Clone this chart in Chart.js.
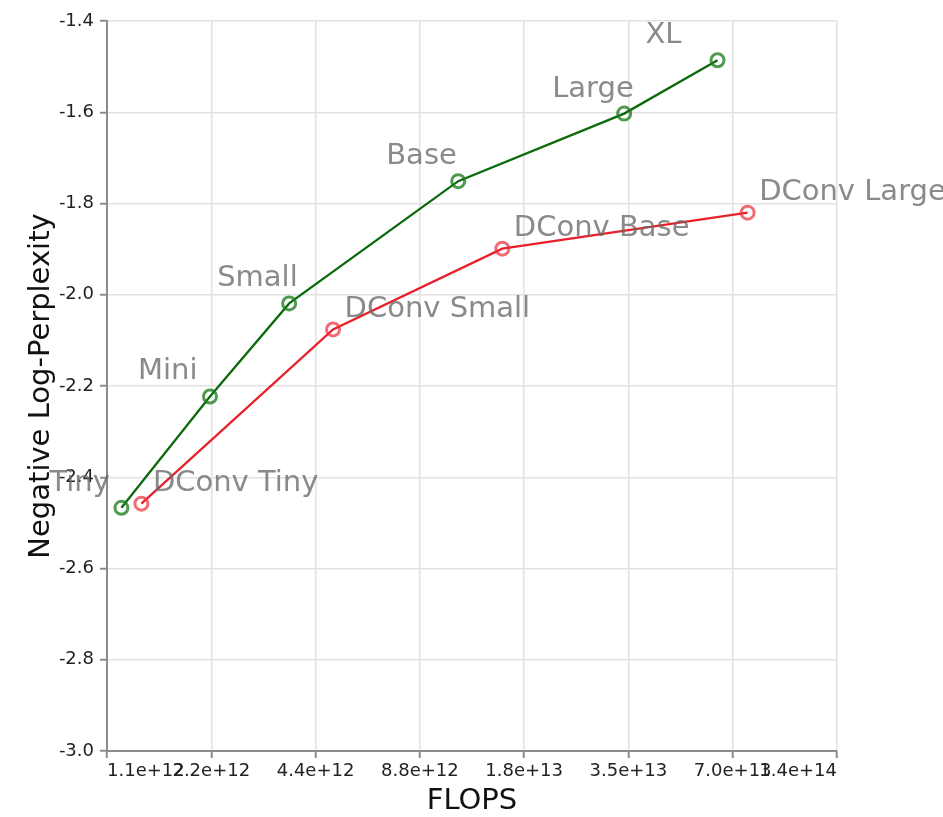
<!DOCTYPE html>
<html>
<head>
<meta charset="utf-8">
<script src="https://cdn.jsdelivr.net/npm/chart.js@4"></script>
<style>
  html, body { margin: 0; padding: 0; background: #ffffff; }
  #wrap { width: 943px; height: 817px; }
</style>
</head>
<body>
<div id="wrap"><canvas id="chart" width="943" height="817"></canvas></div>
<script>
// Model sizes (training FLOPs) and negative log-perplexity.
const baseNames = ['Tiny', 'Mini', 'Small', 'Base', 'Large', 'XL'];
const baseFlops = [1.21e12, 2.18e12, 3.69e12, 1.135e13, 3.42e13, 6.36e13];
const baseScore = [-2.467, -2.223, -2.019, -1.751, -1.603, -1.486];

const dconvNames = ['DConv Tiny', 'DConv Small', 'DConv Base', 'DConv Large'];
const dconvFlops = [1.382e12, 4.94e12, 1.522e13, 7.77e13];
const dconvScore = [-2.458, -2.076, -1.899, -1.820];

// Axis ticks: FLOPs doubling from 2^40 to 2^47.
const flopTickValues = [2 ** 40, 2 ** 41, 2 ** 42, 2 ** 43, 2 ** 44, 2 ** 45, 2 ** 46, 2 ** 47];
const flopTickLabels = ['1.1e+12', '2.2e+12', '4.4e+12', '8.8e+12', '1.8e+13', '3.5e+13', '7.0e+13', '1.4e+14'];
const scoreTickValues = [-3.0, -2.8, -2.6, -2.4, -2.2, -2.0, -1.8, -1.6, -1.4];
const scoreTickLabels = ['-3.0', '-2.8', '-2.6', '-2.4', '-2.2', '-2.0', '-1.8', '-1.6', '-1.4'];

const FONT = "'DejaVu Sans', Verdana, sans-serif";

function toPoints(xs, ys) {
  return xs.map((x, i) => ({ x: x, y: ys[i] }));
}

// Writes each point's model name beside its marker.
const pointNames = {
  id: 'pointNames',
  afterDatasetsDraw(chart) {
    const ctx = chart.ctx;
    ctx.save();
    ctx.font = '29px ' + FONT;
    ctx.fillStyle = 'rgba(105,105,105,0.78)';
    ctx.textAlign = 'left';
    ctx.textBaseline = 'alphabetic';
    chart.data.datasets.forEach((ds, di) => {
      const meta = chart.getDatasetMeta(di);
      const off = ds.labelOffset;
      meta.data.forEach((pt, i) => {
        ctx.fillText(ds.names[i], pt.x + off[0], pt.y + off[1]);
      });
    });
    ctx.restore();
  }
};

new Chart(document.getElementById('chart'), {
  type: 'line',
  data: {
    datasets: [
      {
        label: 'Baseline',
        names: baseNames,
        labelOffset: [-72, -17],
        data: toPoints(baseFlops, baseScore),
        borderColor: '#0b6a0b',
        borderWidth: 2.3,
        pointRadius: 6.5,
        pointBorderWidth: 3,
        pointBorderColor: 'rgba(30,125,30,0.78)',
        pointBackgroundColor: 'rgba(0,0,0,0)',
        tension: 0,
        fill: false
      },
      {
        label: 'DConv',
        names: dconvNames,
        labelOffset: [11.5, -12.5],
        data: toPoints(dconvFlops, dconvScore),
        borderColor: '#e8202a',
        borderWidth: 2.3,
        pointRadius: 6.5,
        pointBorderWidth: 3,
        pointBorderColor: 'rgba(238,50,60,0.72)',
        pointBackgroundColor: 'rgba(0,0,0,0)',
        tension: 0,
        fill: false
      }
    ]
  },
  options: {
    responsive: false,
    animation: false,
    events: [],
    layout: { padding: { top: 21, right: 106, left: 0, bottom: 0 } },
    plugins: {
      legend: { display: false },
      tooltip: { enabled: false }
    },
    scales: {
      x: {
        type: 'logarithmic',
        min: flopTickValues[0],
        max: flopTickValues[flopTickValues.length - 1],
        afterBuildTicks: (s) => { s.ticks = flopTickValues.map(v => ({ value: v })); },
        afterFit: (s) => { s.height = 66; },
        ticks: {
          autoSkip: false,
          maxRotation: 0,
          minRotation: 0,
          align: 'inner',
          padding: 3,
          color: '#222222',
          font: { family: FONT, size: 18 },
          callback: (v, i) => flopTickLabels[i]
        },
        grid: { color: '#e2e2e2', lineWidth: 1.5, tickLength: 7, tickColor: '#8c8c8c', tickWidth: 2 },
        border: { color: '#8c8c8c', width: 2 },
        title: {
          display: true,
          text: 'FLOPS',
          color: '#111111',
          font: { family: FONT, size: 29, lineHeight: 1.1 },
          padding: { top: 0, bottom: 0 }
        }
      },
      y: {
        type: 'linear',
        min: scoreTickValues[0],
        max: scoreTickValues[scoreTickValues.length - 1],
        afterBuildTicks: (s) => { s.ticks = scoreTickValues.map(v => ({ value: v })); },
        afterFit: (s) => { s.width = 107; },
        ticks: {
          padding: 6,
          color: '#222222',
          font: { family: FONT, size: 18 },
          callback: (v, i) => scoreTickLabels[i]
        },
        grid: { color: '#e2e2e2', lineWidth: 1.5, tickLength: 7, tickColor: '#8c8c8c', tickWidth: 2 },
        border: { color: '#8c8c8c', width: 2 },
        title: {
          display: true,
          text: 'Negative Log-Perplexity',
          color: '#111111',
          font: { family: FONT, size: 29, lineHeight: 1.1 },
          padding: { top: 25.5, bottom: 0 }
        }
      }
    }
  },
  plugins: [pointNames]
});
</script>
</body>
</html>
